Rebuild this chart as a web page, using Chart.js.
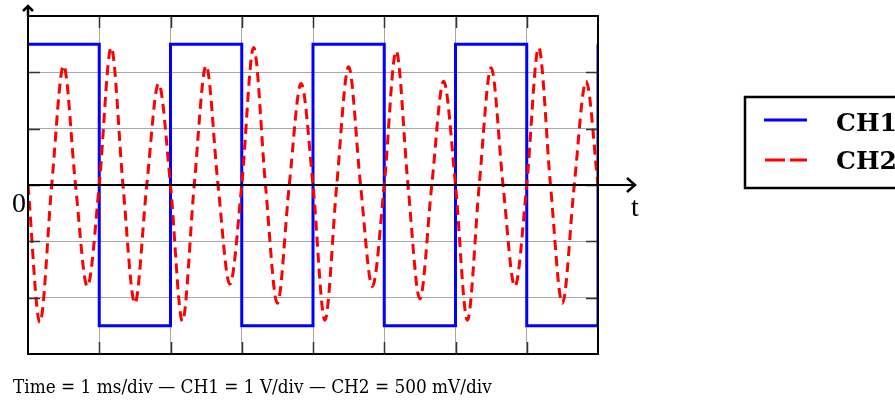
<!DOCTYPE html>
<html>
<head>
<meta charset="utf-8">
<script src="https://cdn.jsdelivr.net/npm/chart.js@4.4.0/dist/chart.umd.min.js"></script>
<style>
  html, body { margin: 0; padding: 0; background: #fff; }
  #wrap { width: 895px; height: 403px; }
</style>
</head>
<body>
<div id="wrap"><canvas id="scope" width="895" height="403"></canvas></div>
<script>
// scope settings
const msPerDiv = 1;
const ch1VoltsPerDiv = 1;
const ch2VoltsPerDiv = 0.5;
const captionText = 'Time = 1 ms/div \u2014 CH1 = 1 V/div \u2014 CH2 = 500 mV/div';
const seriesNames = ['CH1', 'CH2'];

// CH1 square wave: level held from each time until the next edge (ms, V)
const ch1Time = [0, 1, 2, 3, 4, 5, 6, 7, 8];
const ch1Volt = [2.5, -2.5, 2.5, -2.5, 2.5, -2.5, 2.5, -2.5, 2.5];

// CH2: zero crossings and extremes (ms, V)
const ch2Time = [
    0, 0.167, 0.333, 0.5, 0.667, 0.833, 1, 1.167, 1.333, 1.5, 1.667, 1.833,
    2, 2.167, 2.333, 2.5, 2.667, 2.833, 3, 3.167, 3.333, 3.5, 3.667, 3.833,
    4, 4.167, 4.333, 4.5, 4.667, 4.833, 5, 5.167, 5.333, 5.5, 5.667, 5.833,
    6, 6.167, 6.333, 6.5, 6.667, 6.833, 7, 7.167, 7.333, 7.5, 7.667, 7.833,
    8
];
const ch2Volt = [
    0, -1.22, 0, 1.06, 0, -0.90, 0, 1.22, 0, -1.05, 0, 0.90,
    0, -1.21, 0, 1.06, 0, -0.88, 0, 1.22, 0, -1.05, 0, 0.90,
    0, -1.20, 0, 1.05, 0, -0.90, 0, 1.19, 0, -1.01, 0, 0.92,
    0, -1.20, 0, 1.04, 0, -0.90, 0, 1.22, 0, -1.05, 0, 0.92,
    0
];

const toDivs = (ts, vs, vpd) => ts.map((t, i) => ({ x: t / msPerDiv, y: vs[i] / vpd }));

// frame, arrows, labels, legend box and caption
const scopeDecor = {
    id: 'scopeDecor',
    afterDraw(chart) {
        const ctx = chart.ctx;
        const a = chart.chartArea;
        const xs = chart.scales.x, ys = chart.scales.y;
        const y0 = ys.getPixelForValue(0);
        ctx.save();

        // small dark ticks at the ends of each grid line
        ctx.strokeStyle = '#333';
        ctx.lineWidth = 1.5;
        for (let d = 1; d < 8; d++) {
            const px = Math.round(xs.getPixelForValue(d)) + 0.5;
            ctx.beginPath();
            ctx.moveTo(px, a.top); ctx.lineTo(px, a.top + 12);
            ctx.moveTo(px, a.bottom); ctx.lineTo(px, a.bottom - 12);
            ctx.stroke();
        }
        for (let d = -2; d <= 2; d++) {
            const py = Math.round(ys.getPixelForValue(d)) + 0.5;
            ctx.beginPath();
            ctx.moveTo(a.left, py); ctx.lineTo(a.left + 12, py);
            ctx.moveTo(a.right, py); ctx.lineTo(a.right - 12, py);
            ctx.stroke();
        }

        // frame
        ctx.strokeStyle = '#000';
        ctx.lineWidth = 2;
        ctx.strokeRect(a.left, a.top, a.right - a.left, a.bottom - a.top);

        // time axis with arrow
        ctx.lineWidth = 2.2;
        ctx.beginPath();
        ctx.moveTo(a.left, y0); ctx.lineTo(a.right + 37, y0);
        ctx.stroke();
        ctx.lineWidth = 2.5;
        ctx.beginPath();
        ctx.moveTo(a.right + 29, y0 - 7); ctx.lineTo(a.right + 37, y0); ctx.lineTo(a.right + 29, y0 + 7);
        ctx.stroke();

        // vertical axis arrow
        ctx.beginPath();
        ctx.moveTo(a.left, a.top); ctx.lineTo(a.left, a.top - 10);
        ctx.stroke();
        ctx.beginPath();
        ctx.moveTo(a.left - 5, a.top - 5); ctx.lineTo(a.left, a.top - 10); ctx.lineTo(a.left + 5, a.top - 5);
        ctx.stroke();

        // axis labels
        ctx.fillStyle = '#000';
        ctx.font = '28px "Liberation Serif"';
        ctx.textBaseline = 'alphabetic';
        ctx.textAlign = 'right';
        ctx.fillText('0', a.left - 2, y0 + 27);
        ctx.textAlign = 'left';
        ctx.fillText('t', a.right + 33, y0 + 31);

        // legend box (runs off the right edge)
        const lx = 745, ly = 97, lh = 91;
        ctx.lineWidth = 2.5;
        ctx.strokeRect(lx, ly, 200, lh);
        ctx.lineWidth = 3;
        ctx.strokeStyle = '#0000ff';
        ctx.beginPath(); ctx.moveTo(764, 120); ctx.lineTo(807, 120); ctx.stroke();
        ctx.strokeStyle = '#ff0000';
        ctx.setLineDash([20, 5]);
        ctx.beginPath(); ctx.moveTo(765, 160); ctx.lineTo(807, 160); ctx.stroke();
        ctx.setLineDash([]);
        ctx.fillStyle = '#000';
        ctx.font = 'bold 25px "DejaVu Serif"';
        ctx.fillText(seriesNames[0], 836, 131);
        ctx.fillText(seriesNames[1], 836, 169);

        // caption, sized to the reference width
        const face = '"DejaVu Serif Condensed", "DejaVu Serif"';
        let size = 20;
        ctx.font = size + 'px ' + face;
        size = size * 479 / ctx.measureText(captionText).width;
        ctx.font = size.toFixed(1) + 'px ' + face;
        ctx.fillText(captionText, 13, 393);

        ctx.restore();
    }
};

new Chart(document.getElementById('scope'), {
    type: 'line',
    data: {
        datasets: [
            {
                label: seriesNames[1],
                data: toDivs(ch2Time, ch2Volt, ch2VoltsPerDiv),
                borderColor: '#ff0000',
                borderWidth: 3,
                borderDash: [10, 6],
                cubicInterpolationMode: 'monotone',
                pointRadius: 0,
                order: 0
            },
            {
                label: seriesNames[0],
                data: toDivs(ch1Time, ch1Volt, ch1VoltsPerDiv),
                borderColor: '#0000ff',
                borderWidth: 3,
                stepped: true,
                pointRadius: 0,
                order: 1
            }
        ]
    },
    options: {
        responsive: false,
        animation: false,
        layout: { padding: { left: 28, right: 297, top: 16, bottom: 49 } },
        plugins: {
            legend: { display: false },
            tooltip: { enabled: false }
        },
        scales: {
            x: {
                type: 'linear',
                min: 0, max: 8,
                ticks: { display: false, stepSize: 1 },
                grid: { color: '#a8a8a8', lineWidth: 1, drawTicks: false },
                border: { display: false },
                afterFit(s) { s.height = 0; }
            },
            y: {
                type: 'linear',
                min: -3, max: 3,
                ticks: { display: false, stepSize: 1 },
                grid: { color: '#a8a8a8', lineWidth: 1, drawTicks: false },
                border: { display: false },
                afterFit(s) { s.width = 0; }
            }
        }
    },
    plugins: [scopeDecor]
});
</script>
</body>
</html>
